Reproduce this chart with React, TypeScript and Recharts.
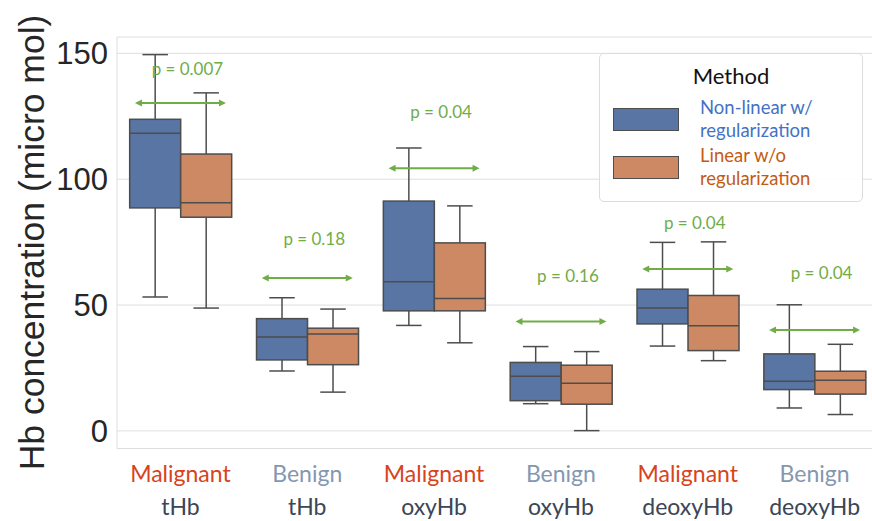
import React from "react";
import {
  ComposedChart,
  Bar,
  Scatter,
  XAxis,
  YAxis,
  CartesianGrid,
  Legend,
} from "recharts";

// 分组（x 轴两行标签）
const groups = ["Malignant", "Benign", "Malignant", "Benign", "Malignant", "Benign"];
const metrics = ["tHb", "tHb", "oxyHb", "oxyHb", "deoxyHb", "deoxyHb"];

// Non-linear w/ regularization
const nlMin = [53.2, 23.8, 41.9, 10.8, 33.7, 9.1];
const nlQ1 = [88.6, 28.2, 47.7, 12.0, 42.5, 16.4];
const nlMed = [118.3, 37.3, 59.3, 21.7, 48.8, 19.7];
const nlQ3 = [123.8, 44.6, 91.3, 27.2, 56.3, 30.6];
const nlMax = [149.5, 52.9, 112.4, 33.5, 74.9, 50.1];

// Linear w/o regularization
const linMin = [48.8, 15.4, 35.0, 0.1, 27.9, 6.5];
const linQ1 = [84.9, 26.3, 47.7, 10.6, 31.9, 14.6];
const linMed = [90.6, 38.5, 52.6, 18.9, 41.8, 20.1];
const linQ3 = [110.0, 40.8, 74.7, 26.1, 53.8, 23.7];
const linMax = [134.3, 48.4, 89.4, 31.5, 75.1, 34.4];

// p 值标注
const pValues = ["p = 0.007", "p = 0.18", "p = 0.04", "p = 0.16", "p = 0.04", "p = 0.04"];
const arrowLevel = [130.3, 60.7, 104.4, 43.5, 64.3, 40.1];
const pLabelLevel = [141.3, 73.8, 124.2, 59.1, 80.2, 60.3];

const yTicks = [0, 50, 100, 150];

const BLUE = "#5875a4";
const ORANGE = "#cc8963";
const EDGE = "#4d4d4d";
const GREEN = "#70ad47";
const GRID = "#dedede";
const CALIBRI = "Lato, 'Open Sans', sans-serif";
const ARIAL = "'Liberation Sans', Arial, sans-serif";

const data = groups.map((g, i) => ({
  key: `${g}-${metrics[i]}-${i}`,
  group: g,
  metric: metrics[i],
  nl: { min: nlMin[i], q1: nlQ1[i], med: nlMed[i], q3: nlQ3[i], max: nlMax[i] },
  lin: { min: linMin[i], q1: linQ1[i], med: linMed[i], q3: linQ3[i], max: linMax[i] },
  arrow: arrowLevel[i],
  pLabel: pLabelLevel[i],
  p: pValues[i],
}));

type Stats = { min: number; q1: number; med: number; q3: number; max: number };

function BoxShape(props: any) {
  const { x, y, width, height, s, fill } = props as { s: Stats } & any;
  const top = Math.min(y, y + height);
  const h = Math.abs(height);
  const k = h / (s.max - s.min);
  const py = (v: number) => top + (s.max - v) * k;
  const cx = x + width / 2;
  const cap = width / 4;
  return (
    <g>
      <line x1={cx} x2={cx} y1={py(s.max)} y2={py(s.q3)} stroke={EDGE} strokeWidth={1.5} />
      <line x1={cx} x2={cx} y1={py(s.q1)} y2={py(s.min)} stroke={EDGE} strokeWidth={1.5} />
      <line x1={cx - cap} x2={cx + cap} y1={py(s.max)} y2={py(s.max)} stroke={EDGE} strokeWidth={1.5} />
      <line x1={cx - cap} x2={cx + cap} y1={py(s.min)} y2={py(s.min)} stroke={EDGE} strokeWidth={1.5} />
      <rect
        x={x}
        y={py(s.q3)}
        width={width}
        height={py(s.q1) - py(s.q3)}
        fill={fill}
        stroke={EDGE}
        strokeWidth={1.5}
      />
      <line x1={x} x2={x + width} y1={py(s.med)} y2={py(s.med)} stroke={EDGE} strokeWidth={1.5} />
    </g>
  );
}

function ArrowShape({ cx, cy }: any) {
  const half = 45.5;
  const l = cx - half;
  const r = cx + half;
  return (
    <g>
      <line x1={l + 4} x2={r - 4} y1={cy} y2={cy} stroke={GREEN} strokeWidth={2} />
      <polygon points={`${l},${cy} ${l + 7},${cy - 3.5} ${l + 7},${cy + 3.5}`} fill={GREEN} />
      <polygon points={`${r},${cy} ${r - 7},${cy - 3.5} ${r - 7},${cy + 3.5}`} fill={GREEN} />
    </g>
  );
}

function PLabelShape({ cx, cy, payload }: any) {
  return (
    <text x={cx + 7} y={cy} textAnchor="middle" fill={GREEN} fontSize={17} fontFamily={CALIBRI}>
      {payload.p}
    </text>
  );
}

function GroupTick({ x, y, payload }: any) {
  const d = data[payload.index] ?? data.find((e) => e.key === payload.value);
  const malignant = d.group === "Malignant";
  return (
    <g fontFamily={CALIBRI}>
      <text x={x} y={y + 33.5} textAnchor="middle" fontSize={23} fill={malignant ? "#d8431c" : "#8497b0"}>
        {d.group}
      </text>
      <text x={x} y={y + 66.5} textAnchor="middle" fontSize={23} fill="#3b4656">
        {d.metric}
      </text>
    </g>
  );
}

function MethodLegend() {
  const row = (color: string, text: string[], textColor: string) => (
    <div style={{ display: "flex", alignItems: "center", height: 48 }}>
      <div
        style={{
          width: 66,
          height: 23,
          background: color,
          border: `1.5px solid ${EDGE}`,
          marginLeft: 13,
          marginRight: 21,
          boxSizing: "border-box",
        }}
      />
      <div style={{ color: textColor, fontSize: 18.5, lineHeight: "23.5px" }}>
        {text.map((t) => (
          <div key={t}>{t}</div>
        ))}
      </div>
    </div>
  );
  return (
    <div
      style={{
        width: 264,
        height: 149,
        boxSizing: "border-box",
        border: "1px solid #dcdcdc",
        borderRadius: 5,
        background: "rgba(255,255,255,0.9)",
        fontFamily: CALIBRI,
        paddingTop: 7,
      }}
    >
      <div style={{ textAlign: "center", fontSize: 22, color: "#111", height: 34, lineHeight: "30px" }}>Method</div>
      {row(BLUE, ["Non-linear w/", "regularization"], "#4472c4")}
      {row(ORANGE, ["Linear w/o", "regularization"], "#c55a11")}
    </div>
  );
}

export default function App() {
  return (
    <div
      style={{
        position: "absolute",
        left: 0,
        top: 0,
        width: 872,
        height: 521,
        overflow: "hidden",
        background: "#fff",
      }}
    >
      <ComposedChart
        width={880}
        height={521}
        data={data}
        margin={{ top: 37, right: 2, bottom: 0, left: 0 }}
        barCategoryGap="10%"
        barGap={0}
      >
        <CartesianGrid vertical={false} stroke={GRID} />
        <XAxis
          dataKey="key"
          tick={<GroupTick />}
          tickLine={false}
          tickSize={0}
          tickMargin={0}
          axisLine={{ stroke: GRID }}
          interval={0}
          height={72.5}
        />
        <XAxis
          xAxisId="top"
          orientation="top"
          dataKey="key"
          tick={false}
          tickLine={false}
          axisLine={{ stroke: GRID }}
          height={0}
        />
        <YAxis
          domain={[-7, 156.5]}
          ticks={yTicks}
          width={117}
          tickLine={false}
          tickSize={0}
          tickMargin={9}
          axisLine={{ stroke: GRID }}
          tick={{ fontSize: 31, fill: "#262626", fontFamily: ARIAL }}
          label={{
            value: "Hb concentration (micro mol)",
            content: () => (
              <text
                transform="translate(43.5, 242.5) rotate(-90)"
                textAnchor="middle"
                fontSize={35.5}
                fill="#262626"
                fontFamily={ARIAL}
              >
                Hb concentration (micro mol)
              </text>
            ),
          }}
        />
        <Bar
          dataKey={(d: any) => [d.nl.min, d.nl.max]}
          name="Non-linear w/ regularization"
          fill={BLUE}
          isAnimationActive={false}
          shape={(p: any) => <BoxShape {...p} s={p.payload.nl} fill={BLUE} />}
        />
        <Bar
          dataKey={(d: any) => [d.lin.min, d.lin.max]}
          name="Linear w/o regularization"
          fill={ORANGE}
          isAnimationActive={false}
          shape={(p: any) => <BoxShape {...p} s={p.payload.lin} fill={ORANGE} />}
        />
        <Scatter dataKey="arrow" isAnimationActive={false} shape={<ArrowShape />} legendType="none" />
        <Scatter dataKey="pLabel" isAnimationActive={false} shape={<PLabelShape />} legendType="none" />
        <Legend
          layout="horizontal"
          verticalAlign="middle"
          align="center"
          content={() => <MethodLegend />}
          wrapperStyle={{ position: "absolute", left: 599, top: 53, width: 264, height: 149 }}
        />
      </ComposedChart>
    </div>
  );
}
